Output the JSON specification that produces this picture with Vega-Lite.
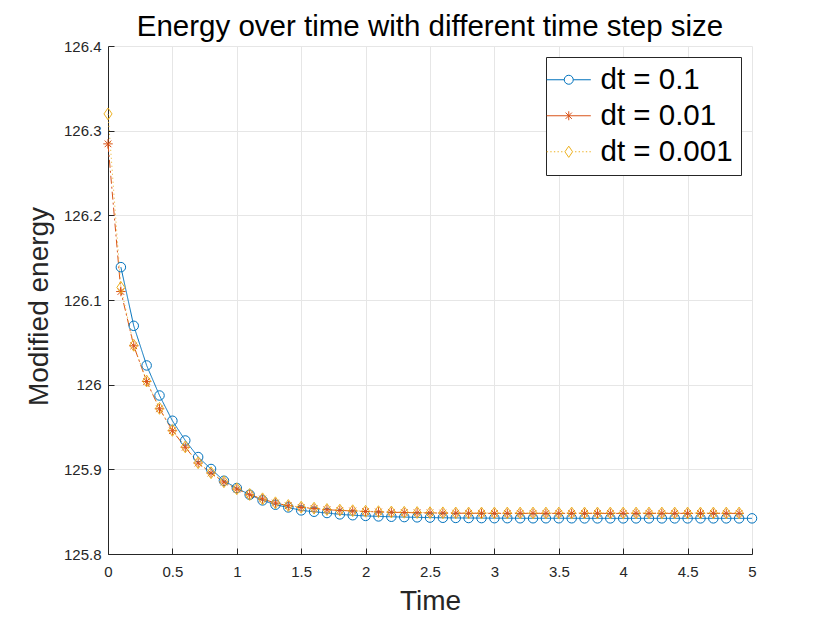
{
  "$schema": "https://vega.github.io/schema/vega-lite/v6.json",
  "autosize": {"type": "none"},
  "padding": {"left": 108, "top": 46, "right": 78, "bottom": 69},
  "width": 644,
  "height": 508,
  "background": "white",
  "title": {
    "text": "Energy over time with different time step size",
    "font": "Liberation Sans",
    "fontSize": 29.5,
    "fontWeight": "normal",
    "color": "#000000",
    "anchor": "middle",
    "offset": -3
  },
  "config": {
    "view": {"stroke": null},
    "axis": {
      "labelFont": "Liberation Sans",
      "labelFontSize": 15,
      "labelColor": "#262626",
      "labelFlush": false,
      "titleFont": "Liberation Sans",
      "titleFontSize": 28,
      "titleFontWeight": "normal",
      "titleColor": "#262626",
      "domainColor": "#262626",
      "domainWidth": 1,
      "tickColor": "#262626",
      "tickSize": -6,
      "gridColor": "#e6e6e6",
      "gridWidth": 1
    },
    "legend": {
      "orient": "top-right",
      "offset": 11,
      "padding": 8,
      "fillColor": "white",
      "strokeColor": "#262626",
      "cornerRadius": 0,
      "symbolSize": 81,
      "symbolStrokeWidth": 1,
      "symbolOffset": 0,
      "labelOffset": 17,
      "labelFont": "Liberation Sans",
      "labelFontSize": 29.5,
      "labelColor": "#000000",
      "rowPadding": 5
    }
  },
  "data": {
    "values": [
      {"series": "dt = 0.1", "time": 0.1, "energy": 126.1388},
      {"series": "dt = 0.1", "time": 0.2, "energy": 126.0695},
      {"series": "dt = 0.1", "time": 0.3, "energy": 126.0227},
      {"series": "dt = 0.1", "time": 0.4, "energy": 125.9872},
      {"series": "dt = 0.1", "time": 0.5, "energy": 125.9574},
      {"series": "dt = 0.1", "time": 0.6, "energy": 125.9341},
      {"series": "dt = 0.1", "time": 0.7, "energy": 125.9145},
      {"series": "dt = 0.1", "time": 0.8, "energy": 125.9004},
      {"series": "dt = 0.1", "time": 0.9, "energy": 125.8865},
      {"series": "dt = 0.1", "time": 1.0, "energy": 125.8779},
      {"series": "dt = 0.1", "time": 1.1, "energy": 125.8700},
      {"series": "dt = 0.1", "time": 1.2, "energy": 125.8633},
      {"series": "dt = 0.1", "time": 1.3, "energy": 125.8582},
      {"series": "dt = 0.1", "time": 1.4, "energy": 125.8550},
      {"series": "dt = 0.1", "time": 1.5, "energy": 125.8515},
      {"series": "dt = 0.1", "time": 1.6, "energy": 125.8499},
      {"series": "dt = 0.1", "time": 1.7, "energy": 125.8484},
      {"series": "dt = 0.1", "time": 1.8, "energy": 125.8468},
      {"series": "dt = 0.1", "time": 1.9, "energy": 125.8458},
      {"series": "dt = 0.1", "time": 2.0, "energy": 125.8450},
      {"series": "dt = 0.1", "time": 2.1, "energy": 125.8444},
      {"series": "dt = 0.1", "time": 2.2, "energy": 125.8440},
      {"series": "dt = 0.1", "time": 2.3, "energy": 125.8436},
      {"series": "dt = 0.1", "time": 2.4, "energy": 125.8433},
      {"series": "dt = 0.1", "time": 2.5, "energy": 125.8430},
      {"series": "dt = 0.1", "time": 2.6, "energy": 125.8428},
      {"series": "dt = 0.1", "time": 2.7, "energy": 125.8426},
      {"series": "dt = 0.1", "time": 2.8, "energy": 125.8425},
      {"series": "dt = 0.1", "time": 2.9, "energy": 125.8424},
      {"series": "dt = 0.1", "time": 3.0, "energy": 125.8423},
      {"series": "dt = 0.1", "time": 3.1, "energy": 125.8423},
      {"series": "dt = 0.1", "time": 3.2, "energy": 125.8422},
      {"series": "dt = 0.1", "time": 3.3, "energy": 125.8422},
      {"series": "dt = 0.1", "time": 3.4, "energy": 125.8422},
      {"series": "dt = 0.1", "time": 3.5, "energy": 125.8422},
      {"series": "dt = 0.1", "time": 3.6, "energy": 125.8422},
      {"series": "dt = 0.1", "time": 3.7, "energy": 125.8421},
      {"series": "dt = 0.1", "time": 3.8, "energy": 125.8421},
      {"series": "dt = 0.1", "time": 3.9, "energy": 125.8421},
      {"series": "dt = 0.1", "time": 4.0, "energy": 125.8421},
      {"series": "dt = 0.1", "time": 4.1, "energy": 125.8421},
      {"series": "dt = 0.1", "time": 4.2, "energy": 125.8421},
      {"series": "dt = 0.1", "time": 4.3, "energy": 125.8421},
      {"series": "dt = 0.1", "time": 4.4, "energy": 125.8421},
      {"series": "dt = 0.1", "time": 4.5, "energy": 125.8421},
      {"series": "dt = 0.1", "time": 4.6, "energy": 125.8421},
      {"series": "dt = 0.1", "time": 4.7, "energy": 125.8421},
      {"series": "dt = 0.1", "time": 4.8, "energy": 125.8421},
      {"series": "dt = 0.1", "time": 4.9, "energy": 125.8421},
      {"series": "dt = 0.1", "time": 5.0, "energy": 125.8421},
      {"series": "dt = 0.01", "time": 0.0, "energy": 126.2844},
      {"series": "dt = 0.01", "time": 0.1, "energy": 126.1100},
      {"series": "dt = 0.01", "time": 0.2, "energy": 126.0459},
      {"series": "dt = 0.01", "time": 0.3, "energy": 126.0038},
      {"series": "dt = 0.01", "time": 0.4, "energy": 125.9715},
      {"series": "dt = 0.01", "time": 0.5, "energy": 125.9456},
      {"series": "dt = 0.01", "time": 0.6, "energy": 125.9261},
      {"series": "dt = 0.01", "time": 0.7, "energy": 125.9074},
      {"series": "dt = 0.01", "time": 0.8, "energy": 125.8956},
      {"series": "dt = 0.01", "time": 0.9, "energy": 125.8850},
      {"series": "dt = 0.01", "time": 1.0, "energy": 125.8767},
      {"series": "dt = 0.01", "time": 1.1, "energy": 125.8700},
      {"series": "dt = 0.01", "time": 1.2, "energy": 125.8649},
      {"series": "dt = 0.01", "time": 1.3, "energy": 125.8602},
      {"series": "dt = 0.01", "time": 1.4, "energy": 125.8570},
      {"series": "dt = 0.01", "time": 1.5, "energy": 125.8550},
      {"series": "dt = 0.01", "time": 1.6, "energy": 125.8538},
      {"series": "dt = 0.01", "time": 1.7, "energy": 125.8523},
      {"series": "dt = 0.01", "time": 1.8, "energy": 125.8515},
      {"series": "dt = 0.01", "time": 1.9, "energy": 125.8508},
      {"series": "dt = 0.01", "time": 2.0, "energy": 125.8502},
      {"series": "dt = 0.01", "time": 2.1, "energy": 125.8497},
      {"series": "dt = 0.01", "time": 2.2, "energy": 125.8493},
      {"series": "dt = 0.01", "time": 2.3, "energy": 125.8490},
      {"series": "dt = 0.01", "time": 2.4, "energy": 125.8487},
      {"series": "dt = 0.01", "time": 2.5, "energy": 125.8485},
      {"series": "dt = 0.01", "time": 2.6, "energy": 125.8483},
      {"series": "dt = 0.01", "time": 2.7, "energy": 125.8482},
      {"series": "dt = 0.01", "time": 2.8, "energy": 125.8481},
      {"series": "dt = 0.01", "time": 2.9, "energy": 125.8481},
      {"series": "dt = 0.01", "time": 3.0, "energy": 125.8480},
      {"series": "dt = 0.01", "time": 3.1, "energy": 125.8480},
      {"series": "dt = 0.01", "time": 3.2, "energy": 125.8480},
      {"series": "dt = 0.01", "time": 3.3, "energy": 125.8480},
      {"series": "dt = 0.01", "time": 3.4, "energy": 125.8480},
      {"series": "dt = 0.01", "time": 3.5, "energy": 125.8480},
      {"series": "dt = 0.01", "time": 3.6, "energy": 125.8480},
      {"series": "dt = 0.01", "time": 3.7, "energy": 125.8480},
      {"series": "dt = 0.01", "time": 3.8, "energy": 125.8480},
      {"series": "dt = 0.01", "time": 3.9, "energy": 125.8480},
      {"series": "dt = 0.01", "time": 4.0, "energy": 125.8480},
      {"series": "dt = 0.01", "time": 4.1, "energy": 125.8480},
      {"series": "dt = 0.01", "time": 4.2, "energy": 125.8480},
      {"series": "dt = 0.01", "time": 4.3, "energy": 125.8480},
      {"series": "dt = 0.01", "time": 4.4, "energy": 125.8480},
      {"series": "dt = 0.01", "time": 4.5, "energy": 125.8480},
      {"series": "dt = 0.01", "time": 4.6, "energy": 125.8480},
      {"series": "dt = 0.01", "time": 4.7, "energy": 125.8480},
      {"series": "dt = 0.01", "time": 4.8, "energy": 125.8480},
      {"series": "dt = 0.01", "time": 4.9, "energy": 125.8480},
      {"series": "dt = 0.001", "time": 0.0, "energy": 126.3198},
      {"series": "dt = 0.001", "time": 0.1, "energy": 126.1148},
      {"series": "dt = 0.001", "time": 0.2, "energy": 126.0465},
      {"series": "dt = 0.001", "time": 0.3, "energy": 126.0043},
      {"series": "dt = 0.001", "time": 0.4, "energy": 125.9720},
      {"series": "dt = 0.001", "time": 0.5, "energy": 125.9460},
      {"series": "dt = 0.001", "time": 0.6, "energy": 125.9265},
      {"series": "dt = 0.001", "time": 0.7, "energy": 125.9078},
      {"series": "dt = 0.001", "time": 0.8, "energy": 125.8960},
      {"series": "dt = 0.001", "time": 0.9, "energy": 125.8853},
      {"series": "dt = 0.001", "time": 1.0, "energy": 125.8770},
      {"series": "dt = 0.001", "time": 1.1, "energy": 125.8703},
      {"series": "dt = 0.001", "time": 1.2, "energy": 125.8652},
      {"series": "dt = 0.001", "time": 1.3, "energy": 125.8605},
      {"series": "dt = 0.001", "time": 1.4, "energy": 125.8573},
      {"series": "dt = 0.001", "time": 1.5, "energy": 125.8553},
      {"series": "dt = 0.001", "time": 1.6, "energy": 125.8541},
      {"series": "dt = 0.001", "time": 1.7, "energy": 125.8526},
      {"series": "dt = 0.001", "time": 1.8, "energy": 125.8518},
      {"series": "dt = 0.001", "time": 1.9, "energy": 125.8511},
      {"series": "dt = 0.001", "time": 2.0, "energy": 125.8505},
      {"series": "dt = 0.001", "time": 2.1, "energy": 125.8500},
      {"series": "dt = 0.001", "time": 2.2, "energy": 125.8496},
      {"series": "dt = 0.001", "time": 2.3, "energy": 125.8493},
      {"series": "dt = 0.001", "time": 2.4, "energy": 125.8490},
      {"series": "dt = 0.001", "time": 2.5, "energy": 125.8488},
      {"series": "dt = 0.001", "time": 2.6, "energy": 125.8486},
      {"series": "dt = 0.001", "time": 2.7, "energy": 125.8485},
      {"series": "dt = 0.001", "time": 2.8, "energy": 125.8484},
      {"series": "dt = 0.001", "time": 2.9, "energy": 125.8484},
      {"series": "dt = 0.001", "time": 3.0, "energy": 125.8484},
      {"series": "dt = 0.001", "time": 3.1, "energy": 125.8484},
      {"series": "dt = 0.001", "time": 3.2, "energy": 125.8484},
      {"series": "dt = 0.001", "time": 3.3, "energy": 125.8484},
      {"series": "dt = 0.001", "time": 3.4, "energy": 125.8484},
      {"series": "dt = 0.001", "time": 3.5, "energy": 125.8484},
      {"series": "dt = 0.001", "time": 3.6, "energy": 125.8484},
      {"series": "dt = 0.001", "time": 3.7, "energy": 125.8484},
      {"series": "dt = 0.001", "time": 3.8, "energy": 125.8484},
      {"series": "dt = 0.001", "time": 3.9, "energy": 125.8484},
      {"series": "dt = 0.001", "time": 4.0, "energy": 125.8484},
      {"series": "dt = 0.001", "time": 4.1, "energy": 125.8484},
      {"series": "dt = 0.001", "time": 4.2, "energy": 125.8484},
      {"series": "dt = 0.001", "time": 4.3, "energy": 125.8484},
      {"series": "dt = 0.001", "time": 4.4, "energy": 125.8484},
      {"series": "dt = 0.001", "time": 4.5, "energy": 125.8484},
      {"series": "dt = 0.001", "time": 4.6, "energy": 125.8484},
      {"series": "dt = 0.001", "time": 4.7, "energy": 125.8484},
      {"series": "dt = 0.001", "time": 4.8, "energy": 125.8484},
      {"series": "dt = 0.001", "time": 4.9, "energy": 125.8484}
    ]
  },
  "encoding": {
    "x": {
      "field": "time",
      "type": "quantitative",
      "title": "Time",
      "scale": {"domain": [0, 5], "nice": false, "zero": false},
      "axis": {
        "values": [0, 0.5, 1, 1.5, 2, 2.5, 3, 3.5, 4, 4.5, 5],
        "format": "~g",
        "labelPadding": 16,
        "titlePadding": 8
      }
    },
    "y": {
      "field": "energy",
      "type": "quantitative",
      "title": "Modified energy",
      "scale": {"domain": [125.8, 126.4], "nice": false, "zero": false},
      "axis": {
        "values": [125.8, 125.9, 126, 126.1, 126.2, 126.3, 126.4],
        "format": "~g",
        "labelPadding": 13,
        "titlePadding": 10,
        "titleY": 260
      }
    }
  },
  "layer": [
    {
      "mark": {"type": "line", "strokeWidth": 1},
      "encoding": {
        "color": {
          "field": "series",
          "type": "nominal",
          "scale": {
            "domain": ["dt = 0.1", "dt = 0.01", "dt = 0.001"],
            "range": ["#0072BD", "#D95319", "#EDB120"]
          },
          "legend": null
        },
        "strokeDash": {
          "field": "series",
          "type": "nominal",
          "scale": {
            "domain": ["dt = 0.1", "dt = 0.01", "dt = 0.001"],
            "range": [[1, 0], [8, 3, 2, 3], [1, 3]]
          },
          "legend": null
        }
      }
    },
    {
      "mark": {"type": "point", "filled": false, "strokeWidth": 1, "size": 90, "opacity": 1},
      "encoding": {
        "color": {"field": "series", "type": "nominal", "legend": null},
        "shape": {
          "field": "series",
          "type": "nominal",
          "scale": {
            "domain": ["dt = 0.1", "dt = 0.01", "dt = 0.001"],
            "range": [
              "circle",
              "M-1,0L1,0M0,-1L0,1M-0.7,-0.7L0.7,0.7M-0.7,0.7L0.7,-0.7",
              "M0,-1.25L0.85,0L0,1.25L-0.85,0Z"
            ]
          },
          "legend": null
        }
      }
    },
    {
      "transform": [{"filter": "datum.time < 0"}],
      "mark": {"type": "point", "filled": false, "strokeWidth": 1, "size": 81, "opacity": 1},
      "encoding": {
        "shape": {
          "field": "series",
          "type": "nominal",
          "title": null,
          "scale": {
            "domain": ["dt = 0.1", "dt = 0.01", "dt = 0.001"],
            "range": [
              "M-4.9,0L-1,0M1,0L4.9,0M-1,0A1,1 0 1,1 1,0A1,1 0 1,1 -1,0",
              "M-4.9,0L4.9,0M0,-1L0,1M-0.7,-0.7L0.7,0.7M-0.7,0.7L0.7,-0.7",
              "M-4.9,0L-4.6,0M-4.1,0L-3.8,0M-3.3,0L-3,0M-2.5,0L-2.2,0M-1.7,0L-1.4,0M1.4,0L1.7,0M2.2,0L2.5,0M3,0L3.3,0M3.8,0L4.1,0M4.6,0L4.9,0M0,-1.25L0.85,0L0,1.25L-0.85,0Z"
            ]
          },
          "legend": {
            "symbolStrokeColor": {"expr": "datum.value == 'dt = 0.1' ? '#0072BD' : datum.value == 'dt = 0.01' ? '#D95319' : '#EDB120'"},
            "symbolFillColor": "transparent"
          }
        }
      }
    }
  ],
  "resolve": {"scale": {"shape": "independent"}}
}
